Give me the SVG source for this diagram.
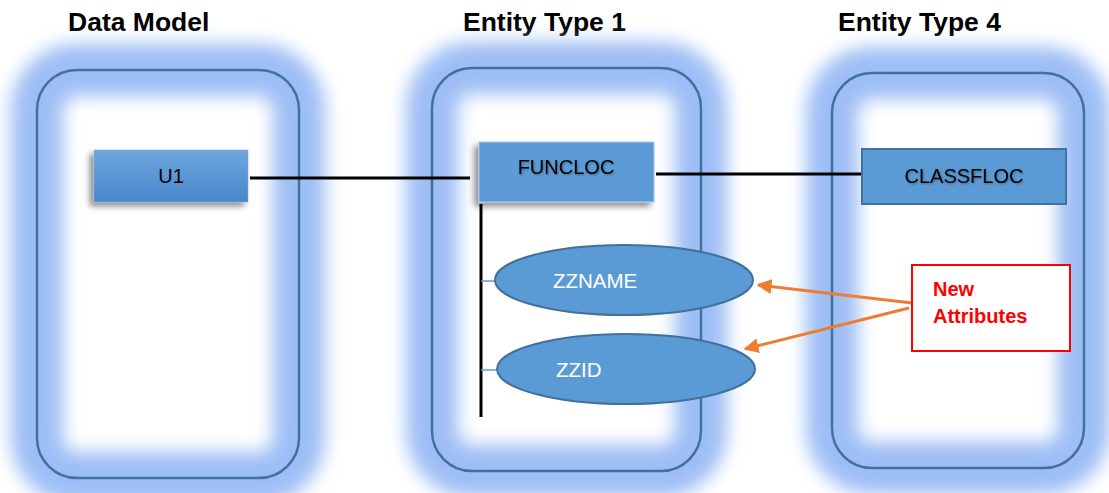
<svg xmlns="http://www.w3.org/2000/svg" width="1109" height="493" viewBox="0 0 1109 493">
<style>
.title{font-family:"Liberation Sans",Arial,sans-serif;font-weight:bold;font-size:26.5px;fill:#000}
.lbl{font-family:"Liberation Sans",Arial,sans-serif;font-size:20px;fill:#000;text-anchor:middle}
.wl{font-family:"Liberation Sans",Arial,sans-serif;font-size:20.5px;fill:#fff}
.red{font-family:"Liberation Sans",Arial,sans-serif;font-weight:bold;font-size:20px;fill:#ff0000}
.glow{fill:none;stroke:#9dbef5;stroke-width:52}
.frame{fill:none;stroke:#41719c;stroke-width:2.5}
.ent{fill:#5b9bd5;stroke:#41719c;stroke-width:2}
.conn{stroke:#000;stroke-width:3;fill:none}
.tick{stroke:#5b9bd5;stroke-width:1.5}
.arr{stroke:#ed7d31;stroke-width:3;fill:none}
</style>
<defs>
<filter id="blur" x="-25%" y="-25%" width="150%" height="150%"><feGaussianBlur stdDeviation="9"/></filter>
<filter id="shadow" x="-20%" y="-30%" width="140%" height="170%"><feDropShadow dx="-4" dy="4" stdDeviation="3" flood-color="#000" flood-opacity="0.45"/></filter>
<filter id="tshadow"><feDropShadow dx="1" dy="1" stdDeviation="1" flood-color="#000" flood-opacity="0.35"/></filter>
<linearGradient id="g1" x1="0" y1="0" x2="0" y2="1"><stop offset="0" stop-color="#6fa7dd"/><stop offset="1" stop-color="#4886cb"/></linearGradient>
<marker id="ah" viewBox="0 0 10 10" refX="9" refY="5" markerWidth="5" markerHeight="5" orient="auto" markerUnits="strokeWidth"><path d="M0,0 L10,5 L0,10 z" fill="#ed7d31"/></marker>
</defs>
<rect width="1109" height="493" fill="#fff"/>
<g id="titles">
<text class="title" x="68" y="31">Data Model</text>
<text class="title" x="463" y="31">Entity Type 1</text>
<text class="title" x="838" y="31">Entity Type 4</text>
</g>
<g id="container-datamodel">
<rect class="glow" x="37" y="70" width="262" height="408" rx="40" filter="url(#blur)"/>
<rect class="frame" x="37" y="70" width="262" height="408" rx="40"/>
</g>
<g id="container-entity1">
<rect class="glow" x="432" y="68" width="269" height="403" rx="40" filter="url(#blur)"/>
<rect class="frame" x="432" y="68" width="269" height="403" rx="40"/>
</g>
<g id="container-entity4">
<rect class="glow" x="832" y="73" width="252" height="395" rx="40" filter="url(#blur)"/>
<rect class="frame" x="832" y="73" width="252" height="395" rx="40"/>
</g>
<g id="connectors">
<line class="conn" x1="250" y1="178" x2="470" y2="178"/>
<line class="conn" x1="656" y1="174" x2="862" y2="174"/>
<line class="conn" x1="481" y1="204" x2="481" y2="417"/>
<line class="tick" x1="481" y1="281" x2="496" y2="281"/>
<line class="tick" x1="481" y1="370" x2="498" y2="370"/>
<line class="arr" x1="912" y1="303" x2="758" y2="285" marker-end="url(#ah)"/>
<line class="arr" x1="909" y1="308" x2="745" y2="349" marker-end="url(#ah)"/>
</g>
<g id="node-u1">
<rect x="94" y="150" width="154" height="52" fill="url(#g1)" stroke="#7fb0e0" stroke-width="0.5" filter="url(#shadow)"/>
<text class="lbl" x="171" y="183">U1</text>
</g>
<g id="node-funcloc">
<rect x="479" y="142" width="175" height="60" fill="#5b9bd5" stroke="#a9c8ea" stroke-width="1" filter="url(#shadow)"/>
<text class="lbl" x="566" y="174" filter="url(#tshadow)">FUNCLOC</text>
</g>
<g id="node-classfloc">
<rect class="ent" x="862" y="149" width="204" height="55"/>
<text class="lbl" x="964" y="183" filter="url(#tshadow)">CLASSFLOC</text>
</g>
<g id="node-zzname">
<ellipse class="ent" cx="624" cy="280" rx="129" ry="35"/>
<text class="wl" x="553" y="288">ZZNAME</text>
</g>
<g id="node-zzid">
<ellipse class="ent" cx="626" cy="369" rx="129" ry="35"/>
<text class="wl" x="556" y="377">ZZID</text>
</g>
<g id="node-newattr">
<rect x="912" y="265" width="158" height="86" fill="#fff" stroke="#ff0000" stroke-width="2"/>
<text class="red" x="933" y="296">New</text>
<text class="red" x="933" y="323">Attributes</text>
</g>
</svg>
